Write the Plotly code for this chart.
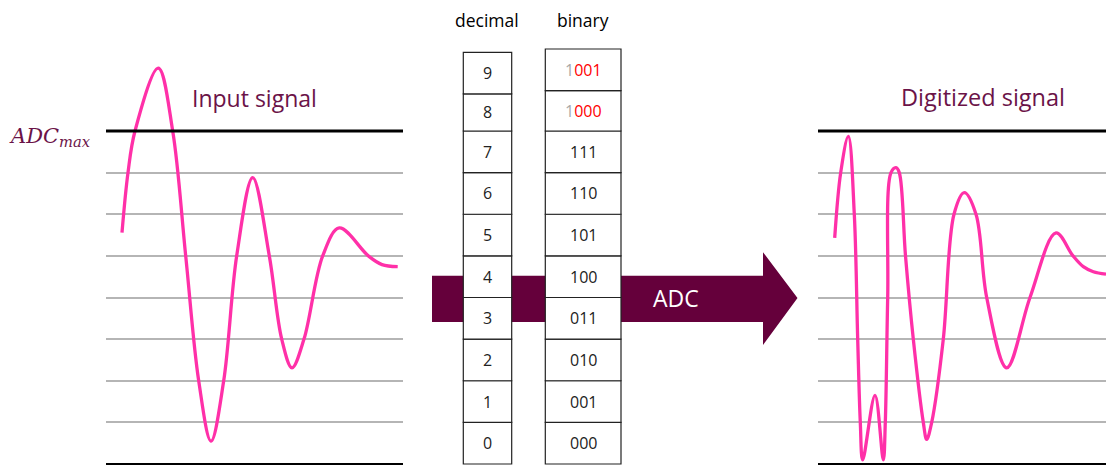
import plotly.graph_objects as go

# ---------------- data ----------------
decimal_labels = ["0", "1", "2", "3", "4", "5", "6", "7", "8", "9"]
binary_labels = ["000", "001", "010", "011", "100", "101", "110", "111", "1000", "1001"]
grid_levels = [1, 2, 3, 4, 5, 6, 7]
adc_max_level = 8
adc_min_level = 0

# input signal (time in arbitrary units, amplitude in ADC levels)
input_time = [16, 22, 29, 52.3, 66.7, 79.7, 92.7, 105, 117.7, 130.7, 146.7,
              163.3, 175.7, 186, 198, 216.7, 233.3, 262.3, 276, 291.7]
input_level = [5.56, 7.0, 8.0, 9.51, 8.0, 5.0, 2.0, 0.55, 2.0, 5.0, 6.88,
               5.0, 3.0, 2.31, 3.0, 5.0, 5.67, 5.0, 4.79, 4.74]

# digitized signal
digitized_time = [16.7, 22.7, 30.3, 36.3, 39.7, 42.3, 44.7, 57, 65.3, 67.3, 69.7, 73, 78, 81.3,
                  87.5, 95.3, 105.3, 108.7, 113.7, 125.3, 136, 146.3, 158, 168.7, 188.7,
                  212, 238, 255, 265.3, 275.3, 288]
digitized_level = [5.43, 7.0, 7.87, 6.0, 3.0, 1.0, 0.1, 1.65, 0.1, 1.0, 4.0, 7.0, 7.12, 7.0,
                   5.0, 3.0, 1.0, 0.59, 1.0, 3.0, 6.0, 6.52, 6.0, 4.0, 2.31,
                   4.0, 5.55, 5.0, 4.74, 4.62, 4.56]

# ---------------- layout constants ----------------
W, H = 1106, 465
PINK = "#ff30a8"
ARROW = "#65003b"
TITLE_C = "#6b1348"
GRID_C = "#b5b5b5"
FONT = "Open Sans"

Y_RANGE = [-0.024, 11.147]

fig = go.Figure()

fig.add_trace(go.Scatter(x=input_time, y=input_level, mode="lines",
                         line=dict(color=PINK, width=3.3, shape="spline", smoothing=1.0),
                         xaxis="x", yaxis="y", hoverinfo="skip", showlegend=False))
fig.add_trace(go.Scatter(x=digitized_time, y=digitized_level, mode="lines",
                         line=dict(color=PINK, width=3.3, shape="spline", smoothing=1.0),
                         xaxis="x2", yaxis="y2", hoverinfo="skip", showlegend=False))

xcommon = dict(showgrid=False, zeroline=False, showticklabels=False, showline=False, ticks="", fixedrange=True)
ycommon = dict(range=Y_RANGE, domain=[0, 1], tickvals=grid_levels, showticklabels=False, ticks="",
               showgrid=True, gridcolor=GRID_C, gridwidth=1.6, zeroline=False, showline=False, fixedrange=True)

shapes = []
# ADC max and bottom lines
for xr, yr in (("x domain", "y"), ("x2 domain", "y2")):
    shapes.append(dict(type="line", xref=xr, yref=yr, x0=0, x1=1, y0=adc_max_level, y1=adc_max_level,
                       line=dict(color="black", width=3)))
    shapes.append(dict(type="line", xref=xr, yref=yr, x0=0, x1=1, y0=adc_min_level, y1=adc_min_level,
                       line=dict(color="black", width=2)))

# arrow (behind table)
ax0, axh, axt = 432 / W, 763 / W, 797.5 / W
arrow_path = (f"M {ax0},4.52 L {axh},4.52 L {axh},5.09 L {axt},3.99 "
              f"L {axh},2.86 L {axh},3.41 L {ax0},3.41 Z")
shapes.append(dict(type="path", xref="paper", yref="y", path=arrow_path,
                   fillcolor=ARROW, line=dict(width=0)))

# tables
dec_x0, dec_x1 = 463.3 / W, 511.7 / W
bin_x0, bin_x1 = 545.3 / W, 621 / W
dec_bounds = [0, 1, 2, 3, 4, 5, 6, 7, 8, 8.89, 9.89]
bin_bounds = [0, 1, 2, 3, 4, 5, 6, 7, 8, 8.97, 9.97]

annotations = []
for i, lab in enumerate(decimal_labels):
    shapes.append(dict(type="rect", xref="paper", yref="y", x0=dec_x0, x1=dec_x1,
                       y0=dec_bounds[i], y1=dec_bounds[i + 1], fillcolor="white",
                       line=dict(color="#222", width=1.2)))
    annotations.append(dict(x=(dec_x0 + dec_x1) / 2, y=(dec_bounds[i] + dec_bounds[i + 1]) / 2,
                            xref="paper", yref="y", text=lab, showarrow=False,
                            font=dict(family=FONT, size=16, color="#222")))
for i, lab in enumerate(binary_labels):
    shapes.append(dict(type="rect", xref="paper", yref="y", x0=bin_x0, x1=bin_x1,
                       y0=bin_bounds[i], y1=bin_bounds[i + 1], fillcolor="white",
                       line=dict(color="#222", width=1.2)))
    if len(lab) > 3:
        txt = (f"<span style='color:#a8a8a8'>{lab[0]}</span>"
               f"<span style='color:#ff0000'>{lab[1:]}</span>")
    else:
        txt = lab
    annotations.append(dict(x=(bin_x0 + bin_x1) / 2, y=(bin_bounds[i] + bin_bounds[i + 1]) / 2,
                            xref="paper", yref="y", text=txt, showarrow=False,
                            font=dict(family=FONT, size=16, color="#222")))

# headers and titles
def ptxt(x, y, text, size, color, family=FONT):
    return dict(x=x / W, y=1 - y / H, xref="paper", yref="paper", text=text, showarrow=False,
                xanchor="center", yanchor="middle", font=dict(family=family, size=size, color=color))

annotations += [
    ptxt(487.3, 20.5, "decimal", 17.5, "black"),
    ptxt(582.7, 20.5, "binary", 17.5, "black"),
    ptxt(254, 98, "Input signal", 23, TITLE_C),
    ptxt(982.5, 97, "Digitized signal", 23.5, TITLE_C),
    ptxt(675.5, 298, "ADC", 23, "white"),
    ptxt(50, 137, "<i>ADC</i><sub><i>max</i></sub>", 21, TITLE_C, "DejaVu Serif"),
]

fig.update_layout(
    width=W, height=H,
    margin=dict(l=0, r=0, t=0, b=0),
    paper_bgcolor="white", plot_bgcolor="rgba(0,0,0,0)",
    showlegend=False,
    xaxis=dict(domain=[106 / W, 403 / W], range=[0, 297], anchor="y", **xcommon),
    yaxis=dict(anchor="x", **ycommon),
    xaxis2=dict(domain=[818 / W, 1], range=[0, 288], anchor="y2", **xcommon),
    yaxis2=dict(anchor="x2", **ycommon),
    shapes=shapes,
    annotations=annotations,
)

fig.write_html("out.html", config={"displayModeBar": False},
               post_script="document.body.style.margin='0px';document.body.style.padding='0px';")
